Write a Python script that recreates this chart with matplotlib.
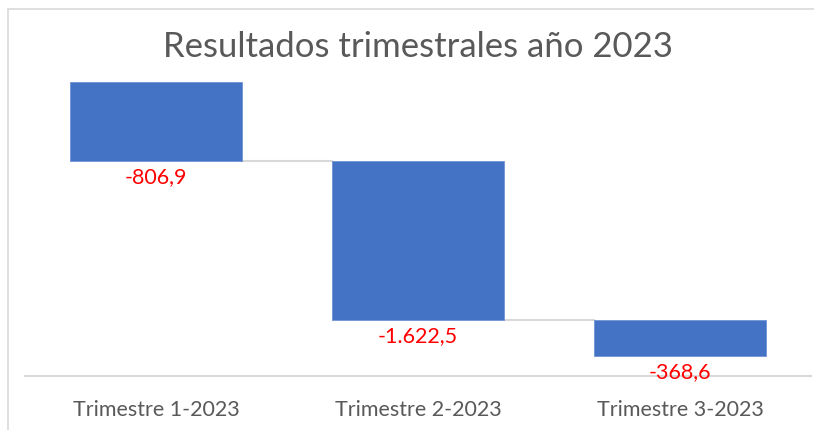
import matplotlib
matplotlib.use("Agg")
import matplotlib.pyplot as plt
from matplotlib.patches import Rectangle
import numpy as np

categorias = ["Trimestre 1-2023", "Trimestre 2-2023", "Trimestre 3-2023"]
valores = [-806.9, -1622.5, -368.6]

plt.rcParams["font.family"] = ["Lato", "DejaVu Sans"]


def formato_es(v):
    # 1,234.5 -> 1.234,5
    s = f"{v:,.1f}"
    return s.replace(",", "X").replace(".", ",").replace("X", ".")


fig = plt.figure(figsize=(8.14, 4.30), dpi=100)
W, H = 814, 430

# light border around the chart area
fig.patches.append(Rectangle((8 / W, -0.1), 1.1, (H - 9) / H + 0.1,
                             transform=fig.transFigure, fill=False,
                             edgecolor="#d9d9d9", linewidth=1.2))

ax = fig.add_axes([25 / W, (H - 376) / H, (811 - 25) / W, (376 - 82) / H])

x = np.arange(len(categorias))
vals = np.array(valores)
tops = np.concatenate([[0], np.cumsum(vals)[:-1]])
ends = tops + vals
ancho = 0.66

ax.bar(x, vals, bottom=tops, width=ancho, color="#4472C4", edgecolor="#6f93d4", linewidth=0.6)

# connector lines
for i in range(len(x) - 1):
    ax.plot([x[i] + ancho / 2, x[i + 1] - ancho / 2], [ends[i], ends[i]],
            color="#d9d9d9", linewidth=1.5, zorder=0)

for xi, e, v in zip(x, ends, vals):
    ax.annotate(formato_es(v), (xi, e), xytext=(0, -4), textcoords="offset points",
                ha="center", va="top", color="#ff0000", fontsize=15.5)

ax.set_xlim(-0.5, len(x) - 0.5)
ax.set_ylim(-3000, 0)
ax.set_xticks(x)
ax.set_xticklabels(categorias, fontsize=15.5, color="#595959")
ax.tick_params(axis="x", length=0, pad=17)
ax.set_yticks([])
for s in ["top", "left", "right"]:
    ax.spines[s].set_visible(False)
ax.spines["bottom"].set_color("#d9d9d9")
ax.spines["bottom"].set_linewidth(1.5)

fig.text(418 / W, 1 - 47 / H, "Resultados trimestrales año 2023", ha="center", va="center",
         fontsize=25, color="#595959")

fig.savefig("out.png", dpi=100)
